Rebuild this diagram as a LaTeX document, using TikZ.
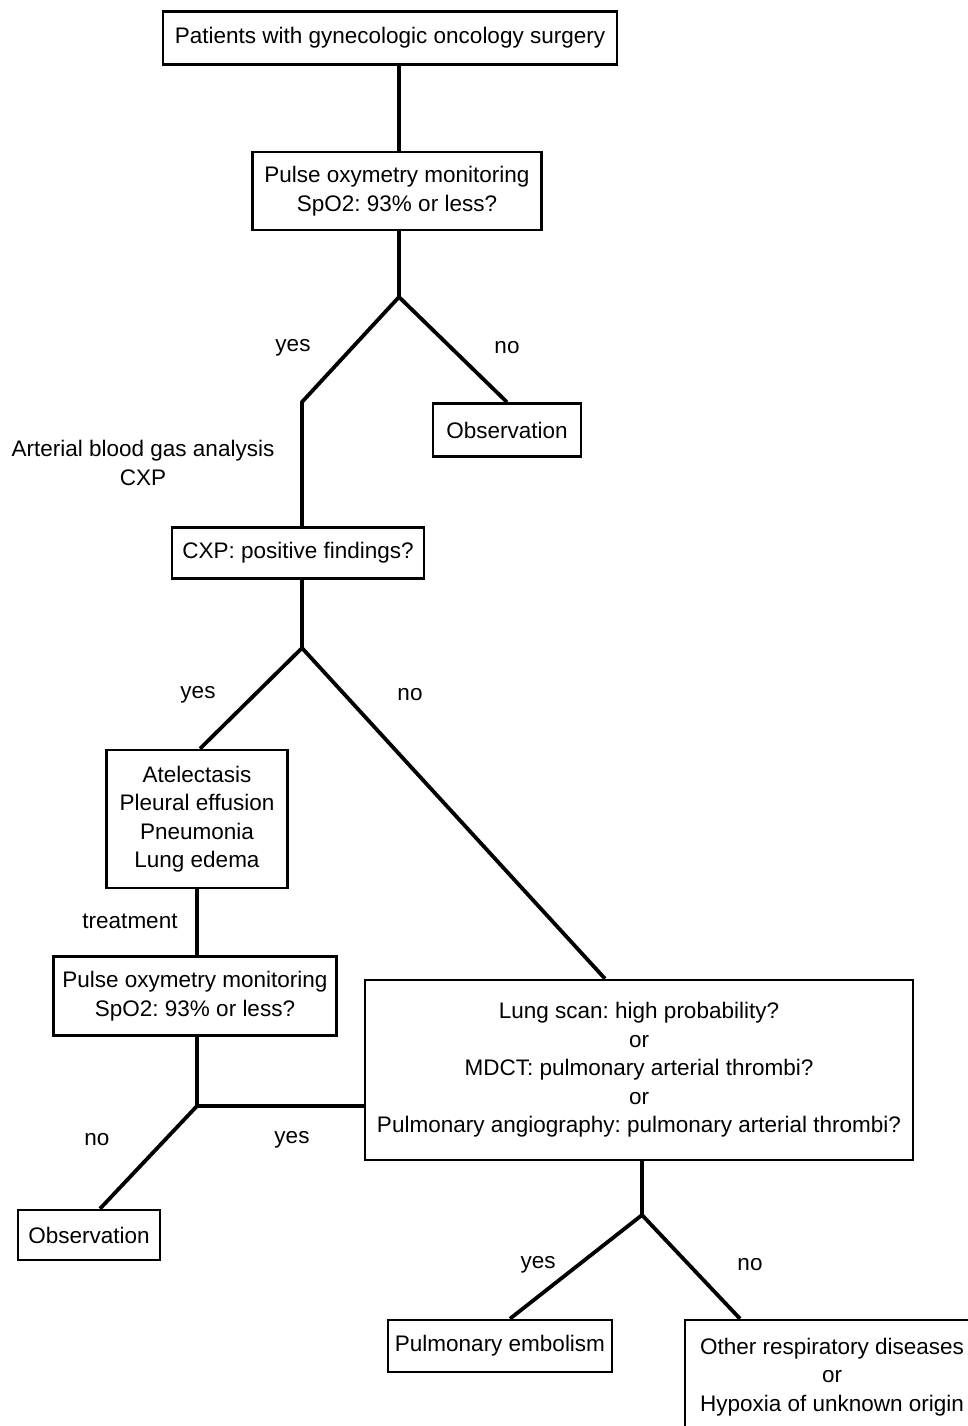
\documentclass[tikz,border=0pt]{standalone}
\usepackage{fontspec}
\setmainfont{Liberation Sans}
\usetikzlibrary{positioning}
\frenchspacing

\tikzset{
  box/.style={draw,line width=2.6pt,align=center,inner sep=0pt,font=\fontsize{22.5}{28.5}\selectfont},
  lbl/.style={align=center,inner sep=0pt,font=\fontsize{22.5}{28.5}\selectfont},
  link/.style={line width=3.8pt,line join=miter}
}

\begin{document}
\begin{tikzpicture}[x=1pt,y=-1pt]
  \useasboundingbox(0,0)rectangle(968,1426);
  \node[box,minimum width=454,minimum height=53](top)at(390,38){Patients with gynecologic oncology surgery};
  \node[box,minimum width=289,minimum height=78](pulse1)at(397,191){Pulse oxymetry monitoring\\SpO2: 93\% or less?};
  \node[box,minimum width=148,minimum height=53](obs1)at(507,430){Observation};
  \node[box,minimum width=252,minimum height=51](cxp)at(298,553){CXP: positive findings?};
  \node[box,minimum width=181,minimum height=138](diag)at(197,819){Atelectasis\\Pleural effusion\\Pneumonia\\Lung edema};
  \node[box,minimum width=283,minimum height=79](pulse2)at(195,996){Pulse oxymetry monitoring\\SpO2: 93\% or less?};
  \node[box,minimum width=548,minimum height=180](lung)at(639,1070){Lung scan: high probability?\\or\\MDCT: pulmonary arterial thrombi?\\or\\Pulmonary angiography: pulmonary arterial thrombi?};
  \node[box,minimum width=142,minimum height=50](obs2)at(89,1235){Observation};
  \node[box,minimum width=224,minimum height=52](pe)at(500,1346){Pulmonary embolism};
  \node[box,minimum width=294,minimum height=114](other)at(832,1377){Other respiratory diseases\\or\\Hypoxia of unknown origin};

  \coordinate(b1)at(399,297);
  \coordinate(k1)at(302,402);
  \coordinate(b2)at(302,648);
  \coordinate(b3)at(197,1106);
  \coordinate(b4)at(642,1215);

  \draw[link](top.south -| b1)--(pulse1.north -| b1);
  \draw[link](pulse1.south -| b1)--(b1);
  \draw[link](b1)--(k1)--(cxp.north -| k1);
  \draw[link](b1)--(obs1.north);
  \draw[link](cxp.south -| b2)--(b2);
  \draw[link](b2)--([xshift=3pt]diag.north);
  \draw[link](b2)--([xshift=-34pt]lung.north);
  \draw[link](diag.south -| b3)--(pulse2.north -| b3);
  \draw[link](pulse2.south -| b3)--(b3)--(lung.west |- b3);
  \draw[link](b3)--([xshift=11pt]obs2.north);
  \draw[link](lung.south -| b4)--(b4);
  \draw[link](b4)--([xshift=10pt]pe.north);
  \draw[link](b4)--([xshift=-92pt]other.north);

  \node[lbl](yes1)at(293,348){yes};
  \node[lbl](no1)at(507,348){no};
  \node[lbl](abg)at(143,463){Arterial blood gas analysis\\CXP};
  \node[lbl](yes2)at(198,695){yes};
  \node[lbl](no2)at(410,695){no};
  \node[lbl](treat)at(130,921){treatment};
  \node[lbl](no3)at(97,1140){no};
  \node[lbl](yes3)at(292,1140){yes};
  \node[lbl](yes4)at(538,1265){yes};
  \node[lbl](no4)at(750,1265){no};
\end{tikzpicture}
\end{document}
